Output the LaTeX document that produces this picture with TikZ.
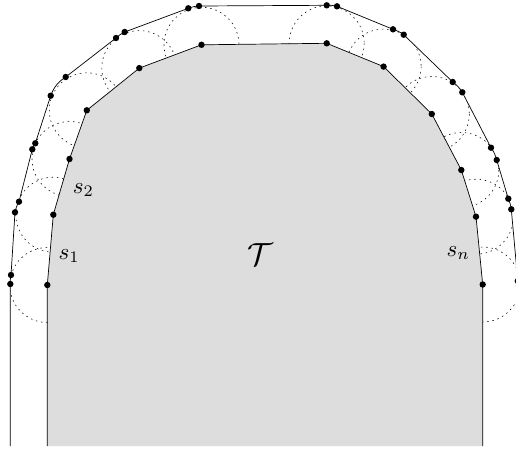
\documentclass[tikz,border=0pt]{standalone}
\usetikzlibrary{calc}
\definecolor{tgray}{RGB}{221,221,221}
\begin{document}
\begin{tikzpicture}[x=1pt,y=-1pt,
  edge/.style={line width=0.7pt, draw=black},
  guide/.style={line width=0.55pt, draw=black, dash pattern=on 1.5pt off 3.8pt},
  vdot/.style={fill=black},
  lab/.style={inner sep=0pt}]
\useasboundingbox (0,0) rectangle (516,448);
\clip (0,0) rectangle (516,448);
% inner polygon vertices
\coordinate (ib0) at (47.3,446);
\coordinate (i0) at (47.3,285);
\coordinate (i1) at (53.3,214.7);
\coordinate (i2) at (69.5,159);
\coordinate (i3) at (86.8,110.3);
\coordinate (i4) at (139.3,68.1);
\coordinate (i5) at (201.5,44.8);
\coordinate (i6) at (326.7,43.3);
\coordinate (i7) at (383.6,66.6);
\coordinate (i8) at (431.8,114);
\coordinate (i9) at (461.3,170);
\coordinate (i10) at (476,216.7);
\coordinate (i11) at (482.7,284.5);
\coordinate (ib11) at (482.7,446);
% outer boundary points
\coordinate (o0) at (10.3,446);
\coordinate (o1) at (10.3,284);
\coordinate (o2) at (11,275);
\coordinate (o3) at (15,212.3);
\coordinate (o4) at (19,201.7);
\coordinate (o5) at (32.3,149.3);
\coordinate (o6) at (35.3,143.3);
\coordinate (o7) at (50.7,95.7);
\coordinate (o8) at (65.7,77);
\coordinate (o9) at (116,38);
\coordinate (o10) at (124.7,32);
\coordinate (o11) at (188.3,8.3);
\coordinate (o12) at (199,6);
\coordinate (o13) at (326.7,5.3);
\coordinate (o14) at (337,6.3);
\coordinate (o15) at (393,29.3);
\coordinate (o16) at (403.7,34.7);
\coordinate (o17) at (452.7,82);
\coordinate (o18) at (462.3,92.3);
\coordinate (o19) at (491,147.7);
\coordinate (o20) at (496.7,160);
\coordinate (o21) at (508.3,198.7);
\coordinate (o22) at (511.3,209.3);
\coordinate (o23) at (517.8,281);
\coordinate (o24) at (519,286);
\coordinate (o25) at (519,446);
% dotted circles, kept inside the outer boundary
\begin{scope}
\clip (o0) -- (o1) -- (o2) -- (o3) -- (o4) -- (o5) -- (o6) -- (o7)
  to[bend left=18] (o8) -- (o9) -- (o10) -- (o11) -- (o12) -- (o13) -- (o14)
  -- (o15) -- (o16) -- (o17) -- (o18) -- (o19) -- (o20) -- (o21) -- (o22)
  -- (o23) -- (o24) -- (o25) -- cycle;
\foreach \k in {0,...,11} \draw[guide] (i\k) circle[radius=37.5];
\end{scope}
% inner region
\fill[tgray] (ib0) -- (i0) -- (i1) -- (i2) -- (i3) -- (i4) -- (i5) -- (i6)
  -- (i7) -- (i8) -- (i9) -- (i10) -- (i11) -- (ib11) -- cycle;
\draw[edge] (ib0) -- (i0) -- (i1) -- (i2) -- (i3) -- (i4) -- (i5) -- (i6)
  -- (i7) -- (i8) -- (i9) -- (i10) -- (i11) -- (ib11);
% outer boundary
\draw[edge] (o0) -- (o1) to[bend left=7] (o2) -- (o3) to[bend left=9] (o4)
  -- (o5) to[bend left=5] (o6) -- (o7) to[bend left=18] (o8) -- (o9)
  to[bend left=8] (o10) -- (o11) to[bend left=8] (o12) -- (o13)
  to[bend left=8] (o14) -- (o15) to[bend left=9] (o16) -- (o17)
  to[bend left=11] (o18) -- (o19) to[bend left=10] (o20) -- (o21)
  to[bend left=8] (o22) -- (o23) to[bend left=5] (o24) -- (o25);
% vertex dots
\foreach \k in {0,...,11} \fill[vdot] (i\k) circle[radius=3.2];
\foreach \k in {1,...,24} \fill[vdot] (o\k) circle[radius=3.2];
% labels
\node[lab, anchor=base west] (s2) at (72.7,193.5) {\scalebox{2.3}{$s_2$}};
\node[lab, anchor=base west] (s1) at (58.5,259) {\scalebox{2.3}{$s_1$}};
\node[lab, anchor=base west] (sn) at (446.5,256.5) {\scalebox{2.3}{$s_n$}};
\node[lab] (T) at (260.5,254.5) {\scalebox{3.2}{$\mathcal{T}$}};
\end{tikzpicture}
\end{document}
